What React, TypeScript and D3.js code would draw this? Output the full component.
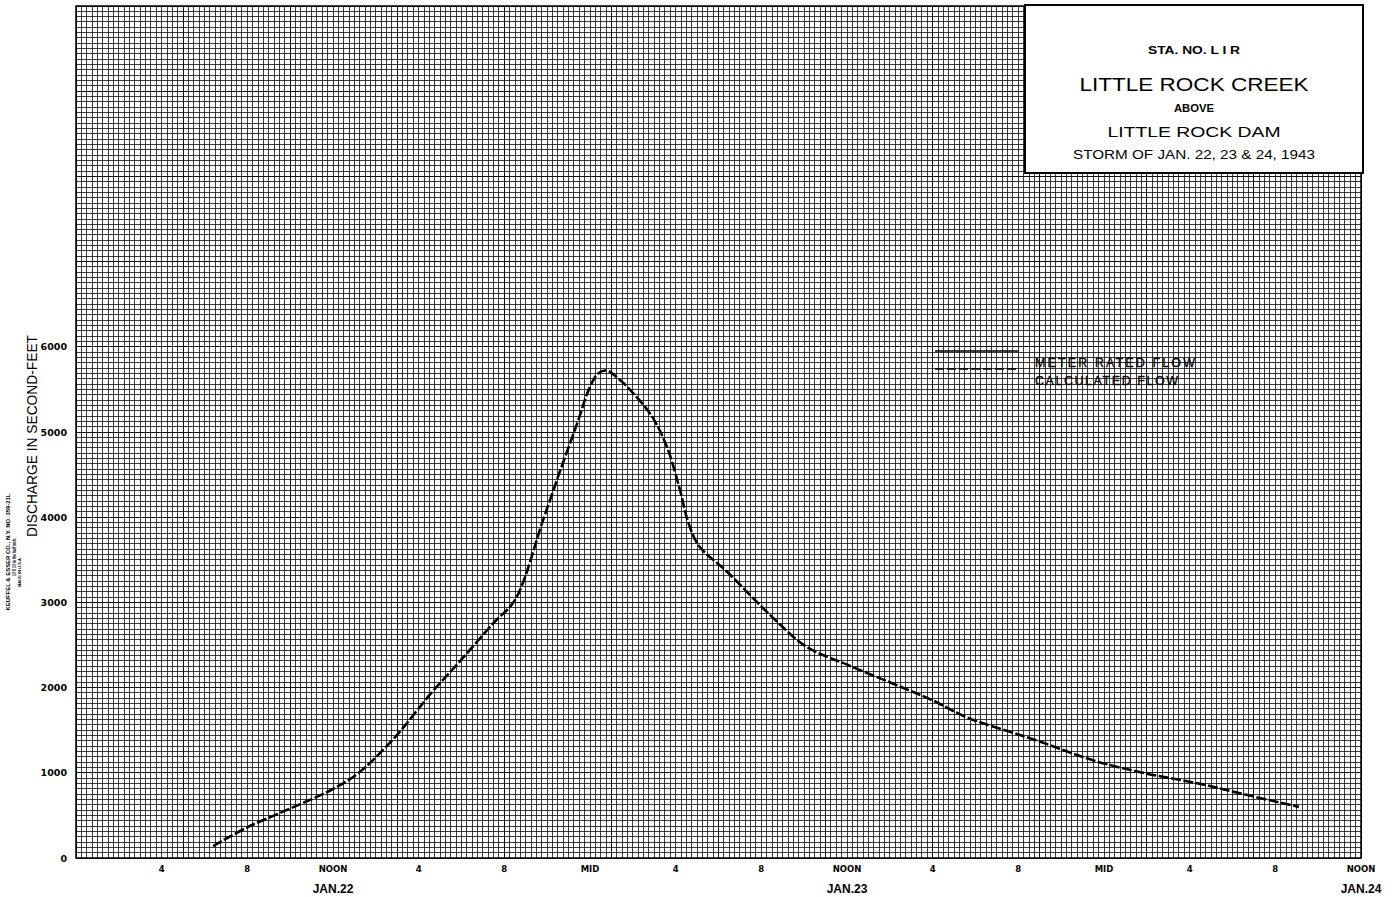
import React from "react";
import * as d3 from "d3";

// ---- data (hours after midnight Jan 22, discharge in second-feet) ----
const hours = [6.4, 8, 10, 12, 13.2, 14.9, 16.6, 18, 19.5, 20.5, 21.8, 22.6, 23.4, 24.0, 24.4, 24.8, 25.4, 26.0, 26.9, 27.6, 28.2, 28.6, 29.1, 30.4, 32.5, 34.1, 36, 38.5, 40, 41.6, 44, 45.3, 46.5, 48, 50, 52.5, 54.5, 57.1];
const flow = [140, 360, 580, 810, 1000, 1420, 1940, 2330, 2760, 3030, 3960, 4540, 5100, 5530, 5690, 5720, 5610, 5460, 5180, 4820, 4320, 3930, 3660, 3360, 2830, 2480, 2270, 2010, 1850, 1650, 1450, 1340, 1230, 1110, 990, 870, 750, 600];

const tickHours = [4, 8, 12, 16, 20, 24, 28, 32, 36, 40, 44, 48, 52, 56, 60];
const tickLabels = ["4", "8", "NOON", "4", "8", "MID", "4", "8", "NOON", "4", "8", "MID", "4", "8", "NOON"];
const dayHours = [12, 36, 60];
const dayLabels = ["JAN.22", "JAN.23", "JAN.24"];
const yTicks = [0, 1000, 2000, 3000, 4000, 5000, 6000];

const titleLines = ["STA. NO. L I R", "LITTLE ROCK CREEK", "ABOVE", "LITTLE ROCK DAM", "STORM OF JAN. 22, 23 & 24, 1943"];
const legendLabels = ["METER RATED FLOW", "CALCULATED FLOW"];
const yTitle = "DISCHARGE IN SECOND-FEET";
const paperNote = ["KEUFFEL & ESSER CO., N.Y. NO. 359-21L", "10 X 10 to the half inch.", "MADE IN U.S.A."];

const W = 1399;
const H = 897;
const x = d3.scaleLinear().domain([0, 60]).range([76, 1361]);
const y = d3.scaleLinear().domain([0, 10000]).range([858, 6]);

const FONT = "'Liberation Sans', Arial, sans-serif";
const BOLD = "'DejaVu Sans', 'Liberation Sans', sans-serif";

export default function App() {
  const pts = hours.map((h, i) => [h, flow[i]] as [number, number]);
  const line = d3
    .line<[number, number]>()
    .x((d) => x(d[0]))
    .y((d) => y(d[1]))
    .curve(d3.curveCatmullRom.alpha(0.5));

  const vGrid = d3.range(0, 60.001, 0.25);
  const hGrid = d3.range(0, 10000.001, 62.5);

  const boxX0 = 1025, boxX1 = 1363, boxY0 = 5, boxY1 = 173;
  const cx = (boxX0 + boxX1) / 2;
  const titleY = [54, 91, 112, 137, 159];
  const titleSize = [11, 18, 10, 14, 12.5];
  const titleWeight = [700, 400, 700, 400, 400];
  const titleLen = [92, 229, 40, 173, 242];

  return (
    <svg width={W} height={H} style={{ position: "absolute", left: 0, top: 0, background: "#fff" }}>
      <rect x={0} y={0} width={W} height={H} fill="#fff" />
      {/* graph paper grid */}
      <g shapeRendering="crispEdges" stroke="#111" strokeWidth={1}>
        {vGrid.map((h, i) => (
          <line key={"v" + i} x1={x(h)} x2={x(h)} y1={y(10000)} y2={y(0)} strokeOpacity={i % 20 === 0 ? 1 : 0.82} />
        ))}
        {hGrid.map((v, i) => (
          <line key={"h" + i} x1={x(0)} x2={x(60)} y1={y(v)} y2={y(v)} strokeOpacity={i % 16 === 0 ? 1 : 0.82} />
        ))}
      </g>
      <rect x={x(0)} y={y(10000)} width={x(60) - x(0)} height={y(0) - y(10000)} fill="none" stroke="#000" strokeWidth={1.5} />

      {/* title box */}
      <rect x={boxX0} y={boxY0} width={boxX1 - boxX0} height={boxY1 - boxY0} fill="#fff" stroke="#000" strokeWidth={2} />
      {titleLines.map((t, i) => (
        <text
          key={"t" + i}
          x={cx}
          y={titleY[i]}
          textAnchor="middle"
          fontFamily={FONT}
          fontSize={titleSize[i]}
          fontWeight={titleWeight[i]}
          textLength={titleLen[i]}
          lengthAdjust="spacingAndGlyphs"
          fill="#000"
        >
          {t}
        </text>
      ))}

      {/* legend */}
      <line x1={935} x2={1019} y1={y(5950)} y2={y(5950)} stroke="#000" strokeWidth={1.6} />
      <line x1={935} x2={1019} y1={y(5740)} y2={y(5740)} stroke="#000" strokeWidth={1.8} strokeDasharray="9,3" />
      {legendLabels.map((t, i) => (
        <text
          key={"l" + i}
          x={1035}
          y={[367, 385][i]}
          fontFamily={FONT}
          fontSize={12.5}
          fontWeight={400}
          stroke="#000"
          strokeWidth={0.3}
          textLength={[160, 143][i]}
          lengthAdjust="spacing"
          fill="#000"
        >
          {t}
        </text>
      ))}

      {/* hydrograph */}
      <path d={line(pts) || ""} fill="none" stroke="#000" strokeWidth={2.6} strokeDasharray="10,2.5" strokeLinecap="butt" strokeLinejoin="round" />

      {/* y ticks */}
      {yTicks.map((v) => (
        <text key={"y" + v} x={67} y={y(v) + 3.5} textAnchor="end" fontFamily={BOLD} fontSize={9.5} fontWeight={700} fill="#000">
          {v}
        </text>
      ))}
      <text
        transform={`translate(37,${436}) rotate(-90)`}
        textAnchor="middle"
        fontFamily={FONT}
        fontSize={14.5}
        fontWeight={400}
        textLength={202}
        lengthAdjust="spacingAndGlyphs"
        fill="#000"
      >
        {yTitle}
      </text>
      {paperNote.map((t, i) => (
        <text
          key={"p" + i}
          transform={`translate(${[10, 16, 21][i]},${[552, 557, 572][i]}) rotate(-90)`}
          textAnchor="middle"
          fontFamily={FONT}
          fontSize={[4.5, 4.5, 3.8][i]}
          fontWeight={700}
          textLength={[117, 38, 30][i]}
          lengthAdjust="spacingAndGlyphs"
          fill="#000"
        >
          {t}
        </text>
      ))}

      {/* x ticks */}
      {tickHours.map((h, i) => (
        <text key={"x" + i} x={x(h)} y={872} textAnchor="middle" fontFamily={BOLD} fontSize={8.5} fontWeight={700} fill="#000">
          {tickLabels[i]}
        </text>
      ))}
      {dayHours.map((h, i) => (
        <text key={"d" + i} x={x(h)} y={893} textAnchor="middle" fontFamily={FONT} fontSize={12} fontWeight={700} fill="#000">
          {dayLabels[i]}
        </text>
      ))}
    </svg>
  );
}
